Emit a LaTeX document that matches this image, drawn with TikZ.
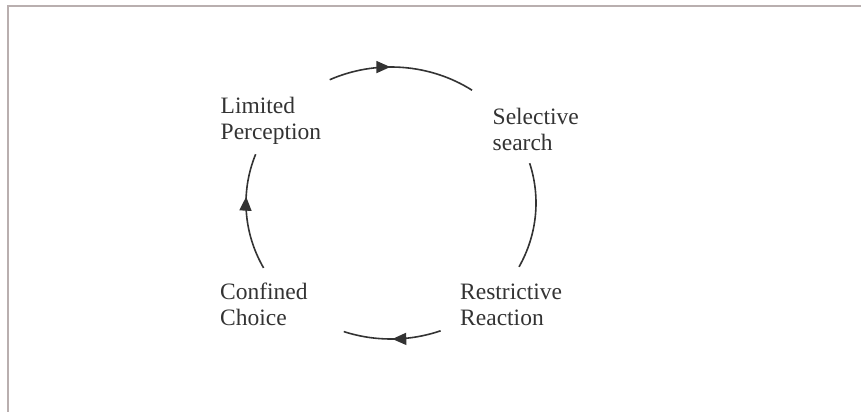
\documentclass[tikz,border=0pt]{standalone}
\usepackage{fontspec}
\setmainfont{Liberation Serif}
\usetikzlibrary{arrows.meta,decorations.markings}
\begin{document}
\begin{tikzpicture}[x=1pt,y=1pt,
  frameline/.style={draw={rgb,255:red,185;green,175;blue,175}, line width=1.6pt},
  cycarc/.style={draw=black!80, line width=1.6pt},
  lbl/.style={anchor=base west, align=left, inner sep=0pt, text=black!80, font=\fontsize{23.5}{26.7}\selectfont},
  tipat/.style={postaction={decorate}, decoration={markings, mark=at position #1 with {\arrow[black!80]{Triangle[length=14pt,width=12pt]}}}}
]
\useasboundingbox (0,0) rectangle (861,412);
\coordinate (fTL) at (8,406);
\coordinate (fTR) at (861,406);
\coordinate (fBL) at (8,0);
\draw[frameline] (fTR) -- (fTL) -- (fBL);

\coordinate (c) at (391,209);
\node[lbl] (lp) at (220.5,272) {Limited\\Perception};
\node[lbl] (ss) at (492.5,261) {Selective\\search};
\node[lbl] (rr) at (460,86) {Restrictive\\Reaction};
\node[lbl] (cc) at (220,86) {Confined\\Choice};

\path (c) ++(115:145 and 136) coordinate (a1);
\path (c) ++(17:145 and 136) coordinate (a2);
\path (c) ++(-70:145 and 136) coordinate (a3);
\path (c) ++(208.5:145 and 136) coordinate (a4);

\draw[cycarc, tipat=0.42] (a1) arc[start angle=115, end angle=56, x radius=145, y radius=136];
\draw[cycarc] (a2) arc[start angle=17, end angle=-28, x radius=145, y radius=136];
\draw[cycarc, tipat=0.5] (a3) arc[start angle=-70, end angle=-109, x radius=145, y radius=136];
\draw[cycarc, tipat=0.63] (a4) arc[start angle=208.5, end angle=159, x radius=145, y radius=136];
\end{tikzpicture}
\end{document}
